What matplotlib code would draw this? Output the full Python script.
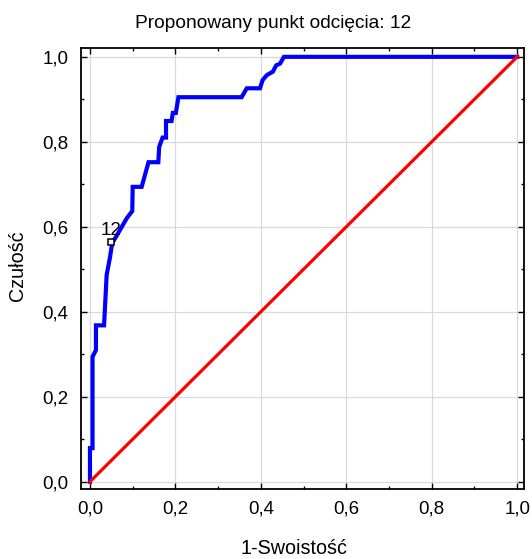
import matplotlib
matplotlib.use("Agg")
import matplotlib.pyplot as plt
from matplotlib.ticker import MultipleLocator, FixedLocator, FixedFormatter

plt.rcParams['font.family'] = ['Liberation Sans', 'DejaVu Sans']

title = "Proponowany punkt odcięcia: 12"
xlabel = "1-Swoistość"
ylabel = "Czułość"

# ROC curve
fpr = [0.0, 0.0, 0.006, 0.006, 0.014, 0.014, 0.033, 0.039, 0.047, 0.052, 0.059,
       0.070, 0.086, 0.099, 0.100, 0.121, 0.137, 0.160, 0.162, 0.170, 0.178,
       0.178, 0.191, 0.194, 0.201, 0.207, 0.355, 0.367, 0.398, 0.404, 0.414,
       0.428, 0.436, 0.445, 0.454, 1.0]
tpr = [0.0, 0.079, 0.079, 0.294, 0.310, 0.368, 0.368, 0.486, 0.529, 0.562, 0.573,
       0.592, 0.620, 0.637, 0.694, 0.694, 0.752, 0.752, 0.788, 0.810, 0.810,
       0.849, 0.849, 0.868, 0.868, 0.905, 0.905, 0.926, 0.926, 0.945, 0.957,
       0.965, 0.980, 0.984, 1.0, 1.0]

ref_x = [0.0, 1.0]
ref_y = [0.0, 1.0]

cut_label = "12"
cut_x = 0.050
cut_y = 0.564

tick_vals = [0.0, 0.2, 0.4, 0.6, 0.8, 1.0]
tick_labels = ["0,0", "0,2", "0,4", "0,6", "0,8", "1,0"]

W, H = 532, 559
fig = plt.figure(figsize=(W / 100, H / 100), dpi=100)
ax = fig.add_axes([81 / W, 1 - 488.5 / H, (524 - 81) / W, (488.5 - 47.5) / H])

ax.set_xlim(-0.021, 1.016)
ax.set_ylim(-0.016, 1.022)

ax.grid(True, color='#dadada', linewidth=0.9, zorder=0)
ax.set_axisbelow(True)

ax.plot(fpr, tpr, color='#0000ff', linewidth=3.0, solid_joinstyle='miter', zorder=3)
ax.plot(ref_x, ref_y, color='#ff0000', linewidth=2.3, zorder=4)

ax.plot([cut_x], [cut_y], marker='s', markersize=5, markerfacecolor='white',
        markeredgecolor='black', markeredgewidth=1.1, linestyle='none', zorder=5)
ax.annotate(cut_label, (cut_x, cut_y), xytext=(0, 2.5), textcoords='offset points',
            ha='center', va='bottom', fontsize=13.5, color='black', zorder=6)

ax.xaxis.set_major_locator(FixedLocator(tick_vals))
ax.xaxis.set_major_formatter(FixedFormatter(tick_labels))
ax.yaxis.set_major_locator(FixedLocator(tick_vals))
ax.yaxis.set_major_formatter(FixedFormatter(tick_labels))
ax.xaxis.set_minor_locator(MultipleLocator(0.1))
ax.yaxis.set_minor_locator(MultipleLocator(0.1))

ax.tick_params(which='both', direction='in', top=True, right=True, width=1.0, color='black')
ax.tick_params(which='major', length=4, labelsize=13.5, pad=9)
ax.tick_params(which='minor', length=2.5)

for s in ax.spines.values():
    s.set_linewidth(1.3)
    s.set_color('black')

fig.text(273 / W, 1 - 24 / H, title, ha='center', va='center', fontsize=13.8)
fig.text(294 / W, 1 - 549 / H, xlabel, ha='center', va='center', fontsize=14.2)
fig.text(18 / W, 1 - 265.5 / H, ylabel, ha='center', va='center', rotation=90, fontsize=14.2)

fig.savefig("out.png", dpi=100)
